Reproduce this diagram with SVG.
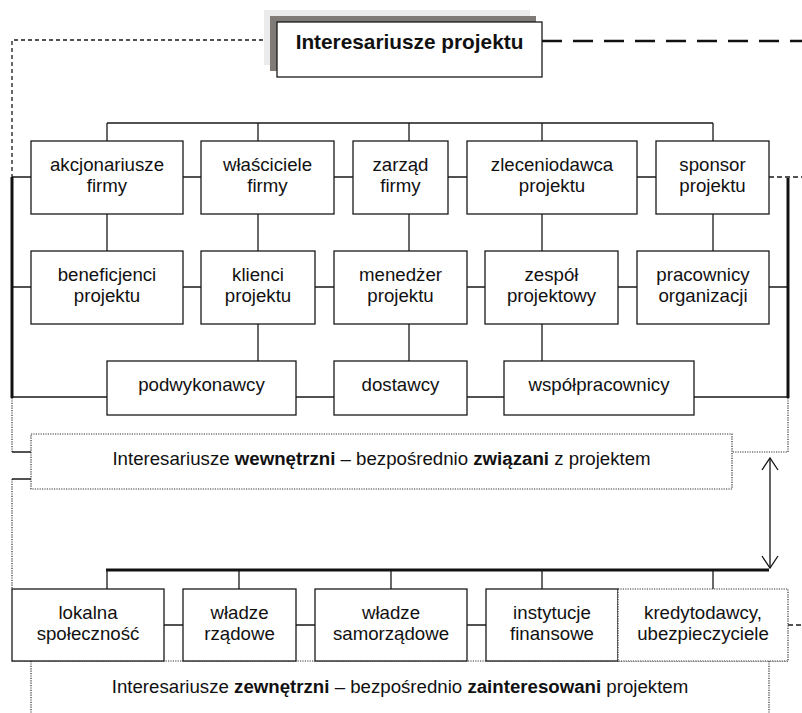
<svg xmlns="http://www.w3.org/2000/svg" width="802" height="713" viewBox="0 0 802 713">
<style>
.b{fill:#fff;stroke:#1a1a1a;stroke-width:1.3}
.bd{fill:#fff;stroke:#333;stroke-width:1.2;stroke-dasharray:1.2 1.2}
.t{font-family:"Liberation Sans",Arial,sans-serif;font-size:18.67px;fill:#111;text-anchor:middle}
.tb{font-family:"Liberation Sans",Arial,sans-serif;font-size:20.8px;font-weight:bold;fill:#111;text-anchor:middle}
.c{stroke:#1a1a1a;stroke-width:1.3;fill:none}
.k{stroke:#111;stroke-width:3;fill:none}
.d{stroke:#333;stroke-width:1.2;stroke-dasharray:1.2 1.2;fill:none}
</style>
<defs>
<marker id="ah" viewBox="0 0 14 18" refX="13" refY="9" markerWidth="14" markerHeight="18" markerUnits="userSpaceOnUse" orient="auto-start-reverse">
<path d="M1,1 L13,9 L1,17" fill="none" stroke="#111" stroke-width="1.3"/>
</marker>
</defs>
<g id="connectors">
<path class="c" d="M277,40 H12 V178" stroke-dasharray="4 3"/>
<path d="M542,41 H802" stroke="#111" stroke-width="2.6" stroke-dasharray="20 11" fill="none"/>
<path class="c" d="M107,123 H713 M107,123 V141 M258,123 V141 M409,123 V141 M542,123 V141 M713,123 V141"/>
<path class="c" d="M107,214 V251 M258,214 V251 M409,214 V251 M542,214 V251 M713,214 V251"/>
<path class="c" d="M258,324 V361 M409,324 V361 M542,324 V361"/>
<path class="c" d="M12,177 H31 M183,177 H201 M334,177 H353 M448,177 H467 M637,177 H656"/>
<path class="c" d="M769,177 H802" stroke-dasharray="5 3"/>
<path class="c" d="M12,287 H31 M183,287 H201 M315,287 H334 M467,287 H485 M618,287 H637 M769,287 H788"/>
<path class="c" d="M12,397 H107 M296,397 H334 M467,397 H504 M694,397 H788"/>
<path class="k" d="M12,177 V398"/>
<path class="k" d="M788,178 V398"/>
<path class="d" d="M12,398 V452 M12,479 V589"/>
<path class="c" d="M12,452 H31 M12,479 H31"/>
<path class="d" d="M788,398 V452 H732"/>
<path d="M770,458 V568" stroke="#111" stroke-width="1.3" fill="none" marker-start="url(#ah)" marker-end="url(#ah)"/>
<path class="k" d="M106,570 H769"/>
<path class="c" d="M107,570 V589 M239,570 V589 M391,570 V589 M542,570 V589 M713,570 V589"/>
<path class="c" d="M164,625 H183 M296,625 H315 M467,625 H486"/>
<path class="c" d="M788,625 H802" stroke-dasharray="5 3"/>
<path class="d" d="M31,661 V713 M769,661 V713 M12,661 H788"/>
</g>
<g id="title">
<rect x="264" y="10" width="266" height="55" fill="#ebebeb"/>
<rect x="270" y="16" width="266" height="55" fill="#807b76"/>
<rect class="b" x="277" y="22" width="265" height="55"/>
<text class="tb" x="409.5" y="49">Interesariusze projektu</text>
</g>
<g id="akcjonariusze"><rect class="b" x="31" y="141" width="152" height="73"/><text class="t" x="107" y="171">akcjonariusze</text><text class="t" x="107" y="192">firmy</text></g>
<g id="wlasciciele"><rect class="b" x="201" y="141" width="133" height="73"/><text class="t" x="267.5" y="171">właściciele</text><text class="t" x="267.5" y="192">firmy</text></g>
<g id="zarzad"><rect class="b" x="353" y="141" width="95" height="73"/><text class="t" x="400.5" y="171">zarząd</text><text class="t" x="400.5" y="192">firmy</text></g>
<g id="zleceniodawca"><rect class="b" x="467" y="141" width="170" height="73"/><text class="t" x="552" y="171">zleceniodawca</text><text class="t" x="552" y="192">projektu</text></g>
<g id="sponsor"><rect class="b" x="656" y="141" width="113" height="73"/><text class="t" x="712.5" y="171">sponsor</text><text class="t" x="712.5" y="192">projektu</text></g>
<g id="beneficjenci"><rect class="b" x="31" y="251" width="152" height="73"/><text class="t" x="107" y="281">beneficjenci</text><text class="t" x="107" y="302">projektu</text></g>
<g id="klienci"><rect class="b" x="201" y="251" width="114" height="73"/><text class="t" x="258" y="281">klienci</text><text class="t" x="258" y="302">projektu</text></g>
<g id="menedzer"><rect class="b" x="334" y="251" width="133" height="73"/><text class="t" x="400.5" y="281">menedżer</text><text class="t" x="400.5" y="302">projektu</text></g>
<g id="zespol"><rect class="b" x="485" y="251" width="133" height="73"/><text class="t" x="551.5" y="281">zespół</text><text class="t" x="551.5" y="302">projektowy</text></g>
<g id="pracownicy"><rect class="b" x="637" y="251" width="132" height="73"/><text class="t" x="703" y="281">pracownicy</text><text class="t" x="703" y="302">organizacji</text></g>
<g id="podwykonawcy"><rect class="b" x="107" y="361" width="189" height="54"/><text class="t" x="201.5" y="391">podwykonawcy</text></g>
<g id="dostawcy"><rect class="b" x="334" y="361" width="133" height="54"/><text class="t" x="400.5" y="391">dostawcy</text></g>
<g id="wspolpracownicy"><rect class="b" x="504" y="361" width="190" height="54"/><text class="t" x="599" y="391">współpracownicy</text></g>
<g id="wewnetrzni"><rect class="bd" x="31" y="434" width="701" height="55"/><text class="t" x="381.5" y="465">Interesariusze <tspan font-weight="bold">wewnętrzni</tspan> – bezpośrednio <tspan font-weight="bold">związani</tspan> z projektem</text></g>
<g id="lokalna"><rect class="b" x="12" y="589" width="152" height="72"/><text class="t" x="88" y="619">lokalna</text><text class="t" x="88" y="640">społeczność</text></g>
<g id="wladze-rzadowe"><rect class="b" x="183" y="589" width="113" height="72"/><text class="t" x="239.5" y="619">władze</text><text class="t" x="239.5" y="640">rządowe</text></g>
<g id="wladze-samorzadowe"><rect class="b" x="315" y="589" width="152" height="72"/><text class="t" x="391" y="619">władze</text><text class="t" x="391" y="640">samorządowe</text></g>
<g id="instytucje"><rect class="b" x="486" y="589" width="132" height="72"/><text class="t" x="552" y="619">instytucje</text><text class="t" x="552" y="640">finansowe</text></g>
<g id="kredytodawcy"><rect class="bd" x="618" y="589" width="170" height="72"/><text class="t" x="703" y="619">kredytodawcy,</text><text class="t" x="703" y="640">ubezpieczyciele</text></g>
<g id="zewnetrzni"><text class="t" x="400" y="693">Interesariusze <tspan font-weight="bold">zewnętrzni</tspan> – bezpośrednio <tspan font-weight="bold">zainteresowani</tspan> projektem</text></g>
</svg>
